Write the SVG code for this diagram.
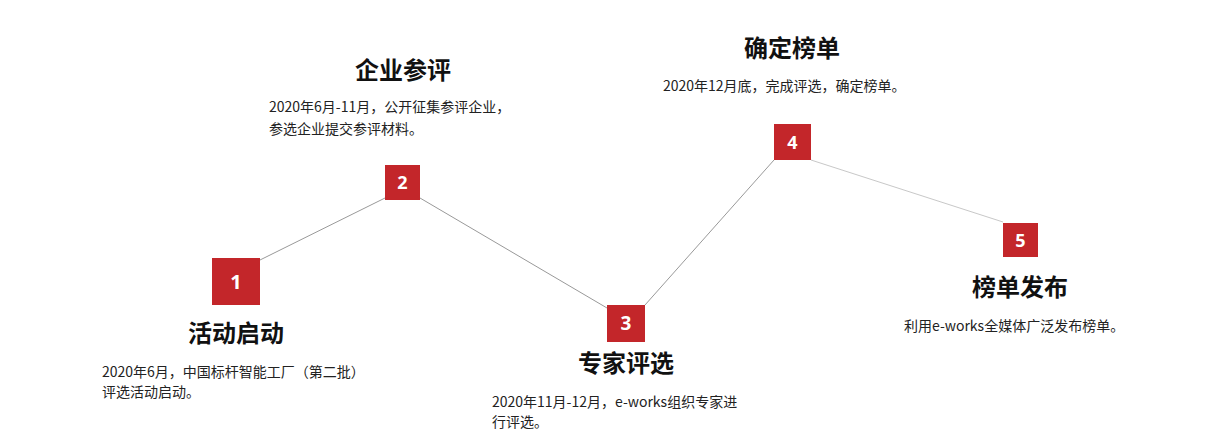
<svg xmlns="http://www.w3.org/2000/svg" width="1227" height="444" viewBox="0 0 1227 444">
<style>
.b{fill:#c3262a}
.n{fill:#fff;font-family:"Noto Sans","Liberation Sans",sans-serif;font-weight:bold;text-anchor:middle}
.t{font-family:"Noto Sans CJK SC","Noto Sans",sans-serif;font-weight:bold;font-size:24px;fill:#111;text-anchor:middle}
.d{font-family:"Noto Sans CJK SC","Noto Sans",sans-serif;font-size:14px;fill:#222}
.l{stroke:#999;stroke-width:1;fill:none}
</style>
<rect width="1227" height="444" fill="#fff"/>
<g id="connectors">
<line class="l" x1="260" y1="260" x2="385" y2="198"/>
<line class="l" x1="420" y1="198" x2="607" y2="308"/>
<line class="l" x1="645" y1="305" x2="774" y2="160"/>
<line class="l" x1="811" y1="160" x2="1003" y2="222" style="stroke:#c8c8c8"/>
</g>
<g id="node1">
<rect class="b" x="212" y="258" width="48" height="47"/>
<text class="n" x="236" y="289" font-size="20">1</text>
<text class="t" x="236" y="342">活动启动</text>
<text class="d" x="102" y="377">2020年6月，中国标杆智能工厂（第二批）</text>
<text class="d" x="102" y="397">评选活动启动。</text>
</g>
<g id="node2">
<rect class="b" x="385" y="165" width="35" height="35"/>
<text class="n" x="402.5" y="189" font-size="18">2</text>
<text class="t" x="403" y="79">企业参评</text>
<text class="d" x="269" y="112">2020年6月-11月，公开征集参评企业，</text>
<text class="d" x="269" y="134">参选企业提交参评材料。</text>
</g>
<g id="node3">
<rect class="b" x="607" y="305" width="38" height="37"/>
<text class="n" x="626" y="330" font-size="19">3</text>
<text class="t" x="626" y="372">专家评选</text>
<text class="d" x="492" y="407">2020年11月-12月，e-works组织专家进</text>
<text class="d" x="492" y="427">行评选。</text>
</g>
<g id="node4">
<rect class="b" x="774" y="124" width="37" height="36"/>
<text class="n" x="792.5" y="149" font-size="18">4</text>
<text class="t" x="792" y="57">确定榜单</text>
<text class="d" x="663" y="91">2020年12月底，完成评选，确定榜单。</text>
</g>
<g id="node5">
<rect class="b" x="1003" y="223" width="35" height="34"/>
<text class="n" x="1020.5" y="247" font-size="18">5</text>
<text class="t" x="1020" y="296">榜单发布</text>
<text class="d" x="904" y="331">利用e-works全媒体广泛发布榜单。</text>
</g>
</svg>
